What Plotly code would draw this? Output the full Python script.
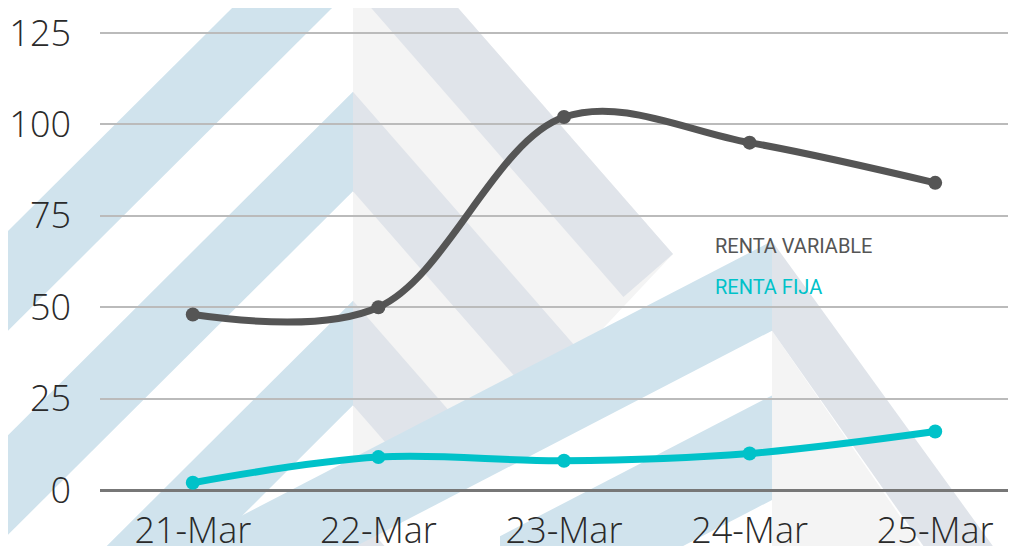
import plotly.graph_objects as go

categories = ["21-Mar", "22-Mar", "23-Mar", "24-Mar", "25-Mar"]
renta_variable = [48, 50, 102, 95, 84]
renta_fija = [2, 9, 8, 10, 16]
y_ticks = [0, 25, 50, 75, 100, 125]
series_names = ["RENTA VARIABLE", "RENTA FIJA"]

# The page shows the figure 8px in from the top-left corner (body margin).
OFF = 8
W, H = 1016, 546
ML, MR, MT, MB = 100 - OFF, 0, 12, 546 - (490 - OFF)
PW, PH = W - ML - MR, H - MT - MB
Y_PER_UNIT = 459 / 125.0
Y_TOP = PH / Y_PER_UNIT

def px2paper(x, y):
    # x, y in screen pixels of the final picture
    return (x - OFF - ML) / PW, (H - MB - (y - OFF)) / PH

def path(points):
    pts = [px2paper(x, y) for x, y in points]
    return "M " + " L ".join(f"{x:.4f},{y:.4f}" for x, y in pts) + " Z"

BLUE = "#d0e3ed"
GRAYBLUE = "#e0e4ea"
LIGHT = "#f4f4f4"

shapes = []
def poly(points, color):
    shapes.append(dict(type="path", xref="paper", yref="paper", path=path(points),
                       fillcolor=color, line=dict(width=0), layer="below"))

# light gray wedges (right of apexes)
poly([(353, -115), (673, 253), (470, 470), (353, 560)], LIGHT)
poly([(772, 330), (930, 560), (772, 560)], LIGHT)

def chevron(ax, ay, t, sl, sr, xl, xr, cl, cr):
    # left arm (blue)
    poly([(ax, ay), (ax, ay + t), (xl, ay + t + sl * (ax - xl)), (xl, ay + sl * (ax - xl))], cl)
    # right arm (grey) with a square end
    yo = ay + sr * (xr - ax)
    k = t / (1 + sr * sr)
    poly([(ax, ay), (xr, yo), (xr - sr * k, yo + k), (ax, ay + t)], cr)

chevron(353, -115, 100, 1.0, 1.15, -60, 673, BLUE, GRAYBLUE)
chevron(353, 90, 100, 1.0, 1.15, -60, 575, BLUE, GRAYBLUE)
chevron(353, 300, 105, 1.0, 1.15, -60, 470, BLUE, GRAYBLUE)
chevron(353, 510, 105, 1.0, 1.15, -60, 420, BLUE, GRAYBLUE)

# big right chevron
poly([(772, 240), (772, 330), (80, 330 + 0.52 * 692), (80, 240 + 0.52 * 692)], BLUE)
poly([(772, 240), (1010, 570), (940, 570), (772, 330)], GRAYBLUE)
poly([(772, 395), (772, 500), (500, 500 + 0.52 * 272), (500, 395 + 0.52 * 272)], BLUE)

fig = go.Figure()
fig.add_trace(go.Scatter(
    x=categories, y=renta_variable, name=series_names[0], mode="lines+markers",
    line=dict(color="#555555", width=7, shape="spline", smoothing=1.0),
    marker=dict(size=14, color="#555555"), showlegend=False, cliponaxis=False))
fig.add_trace(go.Scatter(
    x=categories, y=renta_fija, name=series_names[1], mode="lines+markers",
    line=dict(color="#00c2c9", width=7, shape="spline", smoothing=1.0),
    marker=dict(size=14, color="#00c2c9"), showlegend=False, cliponaxis=False))

legend_font = "Roboto, sans-serif"
annotations = [
    dict(x=px2paper(713, 0)[0], y=px2paper(0, 245)[1], xref="paper", yref="paper",
         text=series_names[0], showarrow=False, xanchor="left", yanchor="middle",
         font=dict(family=legend_font, size=20, color="#555555")),
    dict(x=px2paper(713, 0)[0], y=px2paper(0, 286)[1], xref="paper", yref="paper",
         text=series_names[1], showarrow=False, xanchor="left", yanchor="middle",
         font=dict(family=legend_font, size=20, color="#00c2c9")),
]

tick_font = dict(family="Open Sans", size=36, color="#2a2a2a", weight=300)

fig.update_layout(
    width=W, height=H,
    margin=dict(l=ML, r=MR, t=MT, b=MB, pad=0),
    paper_bgcolor="white", plot_bgcolor="rgba(0,0,0,0)",
    shapes=shapes, annotations=annotations, showlegend=False,
    xaxis=dict(type="category", range=[-0.5, -0.5 + PW / 185.6],
               showgrid=False, showline=False, zeroline=False, ticks="",
               tickfont=tick_font, ticklabelstandoff=16, ticklabeloverflow="allow"),
    yaxis=dict(range=[0, Y_TOP], tickvals=y_ticks, showgrid=True,
               gridcolor="#bbbbbb", gridwidth=2, zeroline=True,
               zerolinecolor="#777777", zerolinewidth=2.5, showline=False,
               ticks="", tickfont=tick_font, ticklabelstandoff=28,
               ticklabeloverflow="allow"),
)

fig.write_html("out.html")
